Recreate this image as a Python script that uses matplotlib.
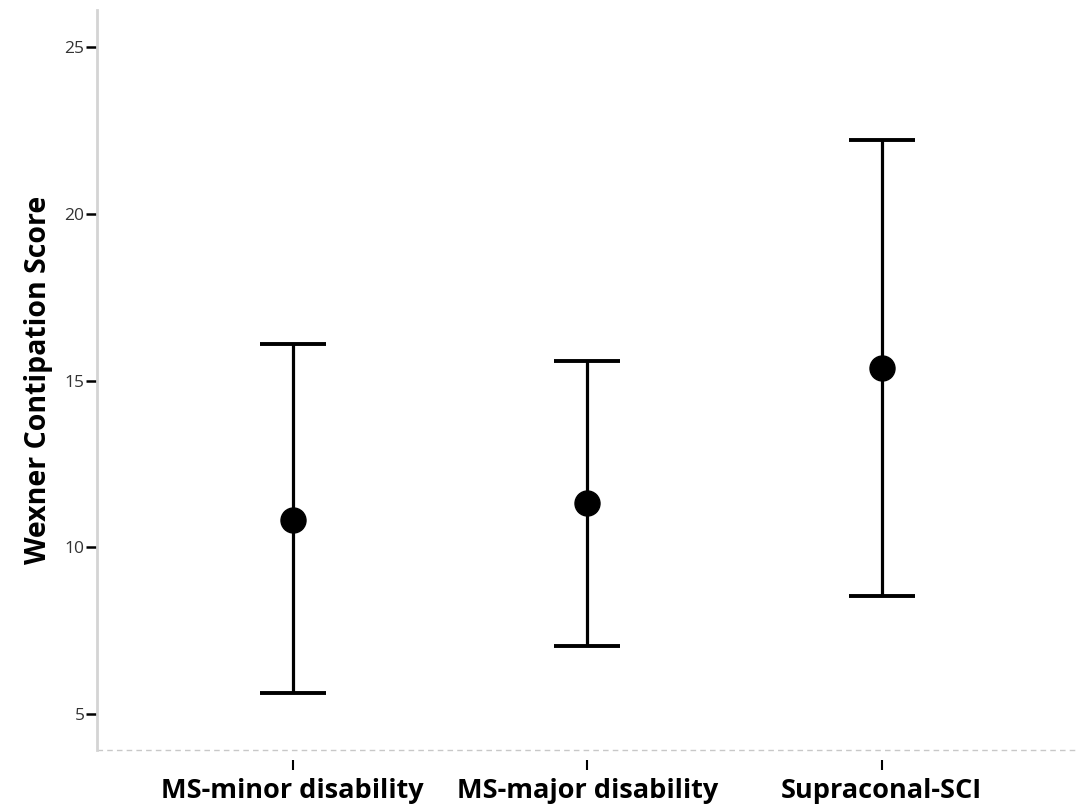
import numpy as np
import matplotlib
matplotlib.use("Agg")
import matplotlib.pyplot as plt

plt.rcParams['font.family'] = ['Open Sans', 'DejaVu Sans']

# group means and 95% CI bounds
groups = ["MS-minor disability", "MS-major disability", "Supraconal-SCI"]
means = [10.83, 11.32, 15.36]
ci_low = [5.62, 7.04, 8.55]
ci_high = [16.09, 15.58, 22.21]
yticks = [5, 10, 15, 20, 25]

x = np.arange(len(groups))
means = np.array(means)
err = np.vstack([means - np.array(ci_low), np.array(ci_high) - means])

fig = plt.figure(figsize=(10.76, 8.05), dpi=100)
ax = fig.add_axes([97/1076, 1 - 750/805, 1 - 97/1076, 740/805])

ax.errorbar(x, means, yerr=err, fmt='o', color='black', ecolor='black',
            elinewidth=2.3, capsize=24, capthick=2.8, markersize=18, zorder=3)

ax.set_xlim(-0.665, 2.66)
ax.set_ylim(3.92, 26.11)
ax.set_yticks(yticks)
ax.set_xticks(x)
ax.set_xticklabels(groups)
ax.set_ylabel("Wexner Contipation Score", fontsize=20.5, fontweight='bold', labelpad=8)

for s in ['top', 'right']:
    ax.spines[s].set_visible(False)
ax.spines['left'].set_color('#d4d4d4')
ax.spines['left'].set_linewidth(2)
# ticks hang below a dashed baseline
ax.spines['bottom'].set_position(('outward', 7))
ax.spines['bottom'].set_visible(False)
ax.axhline(3.92, color='#c8c8c8', lw=1, ls=(0, (4, 3)), clip_on=False)

ax.tick_params(axis='y', length=8, width=1.8, color='black', labelsize=12.5,
               labelcolor='#333333', pad=1)
ax.tick_params(axis='x', length=7, width=1.5, color='black', pad=6,
               labelsize=19.5)
for lbl in ax.get_xticklabels():
    lbl.set_fontweight('bold')

fig.savefig("out.png", dpi=100)
